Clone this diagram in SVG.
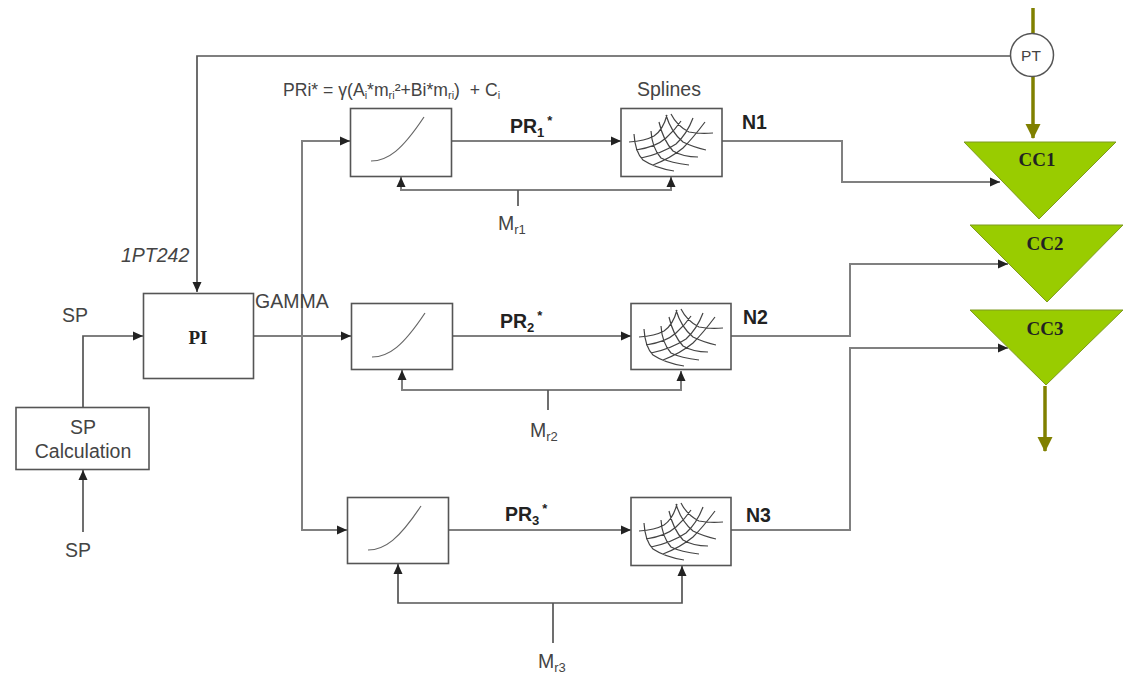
<svg xmlns="http://www.w3.org/2000/svg" width="1125" height="673" viewBox="0 0 1125 673">
<style>
text{font-family:"Liberation Sans",Arial,sans-serif;fill:#444;font-size:19.500px}
.b{font-weight:700;fill:#222}
.s{font-family:"Liberation Serif","Times New Roman",serif;font-weight:700;fill:#222;font-size:19px}
.box{fill:#fff;stroke:#555;stroke-width:1.6}
.tri{fill:#99cc00;stroke:#7f9a20;stroke-width:1}
.w{fill:none;stroke:#555;stroke-width:1.7}
.g{fill:none;stroke:#808080;stroke-width:2}
.o{fill:none;stroke:#808000;stroke-width:3.5}
.c{fill:none;stroke:#666;stroke-width:1.2}
.m{fill:none;stroke:#444;stroke-width:1.2}
</style>
<defs>
<marker id="a" markerWidth="11" markerHeight="10" refX="10" refY="5" orient="auto" markerUnits="userSpaceOnUse"><path d="M0 0.500L10 5 0 9.500z" fill="#222"/></marker>
<marker id="ao" markerWidth="16" markerHeight="16" refX="14" refY="7.500" orient="auto" markerUnits="userSpaceOnUse"><path d="M0 0L15 7.500 0 15z" fill="#808000"/></marker>
<path id="curve" class="c" d="M21 53C38 53 52 42 74 9"/>
<path id="mesh" class="m" d="M8 34Q24 33 33 28Q42 22 46 7M15 42Q35 39 45 30Q54 22 60 13M20 50Q40 46 55 36Q66 26 72 10M32 57Q50 50 62 40Q72 30 84 14M13 26Q14 44 22 52Q34 60 53 63M30 23Q31 40 40 50Q50 55 68 57M38 14Q42 32 52 43Q62 49 77 49M45 7Q50 24 62 34Q72 39 85 42M50 6Q56 18 68 24Q78 26 92 25"/>
</defs>
<g id="connectors">
<path class="w" d="M1010 56H197V292" marker-end="url(#a)"/>
<path class="w" d="M83 407V336H143" marker-end="url(#a)"/>
<path class="w" d="M83 532V470" marker-end="url(#a)"/>
<path class="w" d="M254 336H351" marker-end="url(#a)"/>
<path class="g" d="M302 336V141H350" marker-end="url(#a)"/>
<path class="g" d="M302 336V530H347" marker-end="url(#a)"/>
<path class="w" d="M451 141H621" marker-end="url(#a)"/>
<path class="w" d="M452 336H631" marker-end="url(#a)"/>
<path class="g" d="M448 530H631" marker-end="url(#a)"/>
<path class="g" d="M722 141H842V182H1000" marker-end="url(#a)"/>
<path class="g" d="M731 336H850V264H1008" marker-end="url(#a)"/>
<path class="g" d="M731 530H850V348H1008" marker-end="url(#a)"/>
<path class="g" d="M518 190H401V177" marker-end="url(#a)"/>
<path class="g" d="M518 190H671V177" marker-end="url(#a)"/>
<path class="w" d="M518 190V206"/>
<path class="g" d="M548 390H402V370" marker-end="url(#a)"/>
<path class="g" d="M548 390H681V371" marker-end="url(#a)"/>
<path class="w" d="M548 390V410"/>
<path class="w" d="M553 603H398V564" marker-end="url(#a)"/>
<path class="w" d="M553 603H682V566" marker-end="url(#a)"/>
<path class="w" d="M553 603V643"/>
<path class="o" d="M1033 8V34"/>
<path class="o" d="M1033 76V138" marker-end="url(#ao)"/>
<path class="o" d="M1045 386V451" marker-end="url(#ao)"/>
</g>
<g id="pt"><circle cx="1032" cy="55" r="21.500" fill="#fff" stroke="#555" stroke-width="1.500"/><text x="1031" y="61" text-anchor="middle" style="font-size:15.500px">PT</text></g>
<g id="cc1"><path class="tri" d="M964 142H1116L1039 219z"/><text class="s" x="1037" y="166" text-anchor="middle">CC1</text></g>
<g id="cc2"><path class="tri" d="M970 225H1123L1047 302z"/><text class="s" x="1045" y="250" text-anchor="middle">CC2</text></g>
<g id="cc3"><path class="tri" d="M970 310H1123L1046 385z"/><text class="s" x="1045" y="335" text-anchor="middle">CC3</text></g>
<g id="pi"><rect class="box" x="143.500" y="293.500" width="110" height="85"/><text class="s" x="198" y="344" text-anchor="middle">PI</text></g>
<g id="spcalc"><rect class="box" x="16" y="407.500" width="133" height="62"/><text x="83" y="434" text-anchor="middle">SP</text><text x="83" y="458" text-anchor="middle">Calculation</text></g>
<g id="f1"><rect class="box" x="350.500" y="108.500" width="101" height="68"/><use href="#curve" x="350" y="108"/></g>
<g id="f2"><rect class="box" x="351.500" y="303.500" width="101" height="66"/><use href="#curve" x="351" y="304"/></g>
<g id="f3"><rect class="box" x="347.500" y="497.500" width="101" height="66"/><use href="#curve" x="347" y="497"/></g>
<g id="s1"><rect class="box" x="621" y="108.500" width="101" height="68"/><use href="#mesh" x="621" y="108"/></g>
<g id="s2"><rect class="box" x="631" y="303.500" width="100" height="66"/><use href="#mesh" x="631" y="303"/></g>
<g id="s3"><rect class="box" x="631" y="497.500" width="100" height="68"/><use href="#mesh" x="631" y="497"/></g>
<g id="labels">
<text x="283" y="96" style="font-size:17.600px">PRi* = γ(A<tspan dy="3" font-size="11">i</tspan><tspan dy="-3">*m</tspan><tspan dy="3" font-size="11">ri</tspan><tspan dy="-3">²+Bi*m</tspan><tspan dy="3" font-size="11">ri</tspan><tspan dy="-3">)&#160; + C</tspan><tspan dy="3" font-size="11">i</tspan></text>
<text x="637" y="96">Splines</text>
<text class="b" x="510" y="133">PR<tspan dy="4" font-size="13">1</tspan><tspan dy="-12" dx="3" font-size="13">*</tspan></text>
<text class="b" x="500" y="328">PR<tspan dy="4" font-size="13">2</tspan><tspan dy="-12" dx="3" font-size="13">*</tspan></text>
<text class="b" x="505" y="521">PR<tspan dy="4" font-size="13">3</tspan><tspan dy="-12" dx="3" font-size="13">*</tspan></text>
<text class="b" x="742" y="129">N1</text>
<text class="b" x="743" y="324">N2</text>
<text class="b" x="746" y="522">N3</text>
<text x="498" y="230">M<tspan dy="4" font-size="13">r1</tspan></text>
<text x="530" y="437">M<tspan dy="4" font-size="13">r2</tspan></text>
<text x="538" y="668">M<tspan dy="4" font-size="13">r3</tspan></text>
<text x="121" y="262" font-style="italic">1PT242</text>
<text x="255" y="308">GAMMA</text>
<text x="62" y="322">SP</text>
<text x="65" y="557">SP</text>
</g>
</svg>
